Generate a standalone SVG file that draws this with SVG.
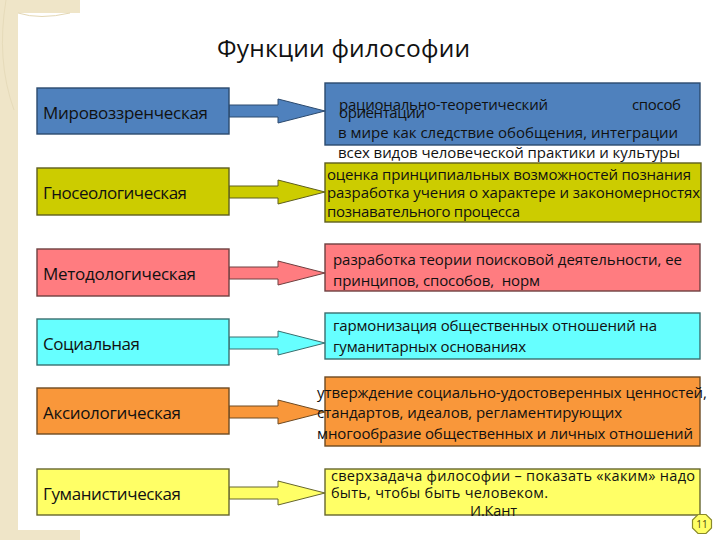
<svg xmlns="http://www.w3.org/2000/svg" width="720" height="540" viewBox="0 0 720 540">
<style>
  text { font-family: "Open Sans", "Liberation Sans", sans-serif; fill: #111111; }
  .title { font-size: 24.5px; }
  .lbl { font-size: 17px; }
  .txt { font-size: 15px; }
  .sm { font-size: 14.5px; }
  .box { stroke-width: 1.4; }
  .arr { stroke-width: 1; }
  .blue { fill: #4f81bd; stroke: #2c4a6e; }
  .olive { fill: #cccc00; stroke: #5e5e1e; }
  .pink { fill: #ff7c80; stroke: #6e4040; }
  .cyan { fill: #66ffff; stroke: #3a6e6e; }
  .orange { fill: #f9973a; stroke: #6e4a22; }
  .lyellow { fill: #ffff66; stroke: #66662e; }
</style>
<defs>
  <polygon id="arrow" points="0,-6 49,-6 49,-12 96,0 49,12 49,6 0,6"/>
</defs>

<!-- background -->
<rect x="0" y="0" width="720" height="540" fill="#ffffff"/>
<g id="background" fill="#efe5c8">
  <rect x="0" y="0" width="18" height="540"/>
  <rect x="0" y="0" width="80" height="13"/>
  <rect x="0" y="530" width="80" height="10"/>
  <path d="M18,13 Q40,20 70,13" fill="none" stroke="#e3d7b4" stroke-width="1"/>
  <path d="M6,0 Q-4,60 14,110" fill="none" stroke="#e6dbba" stroke-width="1"/>
</g>

<text id="title" class="title" x="217" y="57" textLength="253">Функции философии</text>

<g id="connectors">
  <use href="#arrow" class="arr blue" transform="translate(229,111)"/>
  <use href="#arrow" class="arr olive" transform="translate(229,192)"/>
  <use href="#arrow" class="arr pink" transform="translate(229,273)"/>
  <use href="#arrow" class="arr cyan" transform="translate(229,343)"/>
  <use href="#arrow" class="arr orange" transform="translate(229,412)"/>
  <use href="#arrow" class="arr lyellow" transform="translate(229,493)"/>
</g>

<g id="f-world">
  <rect class="box blue" x="37" y="88" width="192" height="46"/>
  <text class="lbl" x="43" y="118.5" textLength="165">Мировоззренческая</text>
</g>
<g id="d-world">
  <rect class="box blue" x="325" y="83" width="375" height="62"/>
  <text class="txt" x="339" y="110" textLength="209">рационально-теоретический</text>
  <text class="txt" x="632" y="110" textLength="49">способ</text>
  <text class="txt" x="339" y="118" textLength="86">ориентации</text>
  <text class="txt" x="338" y="138" textLength="340">в мире как следствие обобщения, интеграции</text>
  <text class="txt" x="338" y="158" textLength="342">всех видов человеческой практики и культуры</text>
</g>

<g id="f-gnoseo">
  <rect class="box olive" x="37" y="168" width="192" height="47"/>
  <text class="lbl" x="43" y="199" textLength="144">Гносеологическая</text>
</g>
<g id="d-gnoseo">
  <rect class="box olive" x="325" y="163" width="376" height="59"/>
  <text class="txt" x="327" y="180" textLength="364">оценка принципиальных возможностей познания</text>
  <text class="txt" x="327" y="198" textLength="373">разработка учения о характере и закономерностях</text>
  <text class="txt" x="327" y="217" textLength="193">познавательного процесса</text>
</g>

<g id="f-method">
  <rect class="box pink" x="37" y="249" width="192" height="47"/>
  <text class="lbl" x="43" y="280" textLength="153">Методологическая</text>
</g>
<g id="d-method">
  <rect class="box pink" x="325" y="244" width="375" height="47"/>
  <text class="txt" x="333" y="265" textLength="349">разработка теории поисковой деятельности, ее</text>
  <text class="txt" x="333" y="286" textLength="207" xml:space="preserve">принципов, способов,  норм</text>
</g>

<g id="f-social">
  <rect class="box cyan" x="37" y="319" width="192" height="46"/>
  <text class="lbl" x="43" y="349.5" textLength="97">Социальная</text>
</g>
<g id="d-social">
  <rect class="box cyan" x="325" y="313" width="375" height="46"/>
  <text class="txt" x="333" y="331" textLength="324">гармонизация общественных отношений на</text>
  <text class="txt" x="333" y="352" textLength="193">гуманитарных основаниях</text>
</g>

<g id="f-axio">
  <rect class="box orange" x="37" y="388" width="192" height="46"/>
  <text class="lbl" x="43" y="418.5" textLength="138">Аксиологическая</text>
</g>
<g id="d-axio">
  <rect class="box orange" x="325" y="377" width="375" height="69"/>
  <text class="txt" x="317" y="398" textLength="390">утверждение социально-удостоверенных ценностей,</text>
  <text class="txt" x="317" y="418" textLength="305">стандартов, идеалов, регламентирующих</text>
  <text class="txt" x="317" y="439" textLength="376">многообразие общественных и личных отношений</text>
</g>

<g id="f-human">
  <rect class="box lyellow" x="37" y="469" width="192" height="46"/>
  <text class="lbl" x="43" y="499.5" textLength="138">Гуманистическая</text>
</g>
<g id="d-human">
  <rect class="box lyellow" x="325" y="469" width="375" height="46"/>
  <text class="sm" x="331" y="481" textLength="364">сверхзадача философии – показать «каким» надо</text>
  <text class="sm" x="331" y="498" textLength="217">быть, чтобы быть человеком.</text>
  <text class="sm" x="470" y="516" textLength="47">И.Кант</text>
</g>

<g id="page-number">
  <polygon points="698,514.5 706,514.5 711.5,520 711.5,528 706,533.5 698,533.5 692.5,528 692.5,520" fill="#ffff66" stroke="#8a8a2a" stroke-width="1.2"/>
  <text x="702" y="527.5" font-size="10" text-anchor="middle" style="fill:#4a4a10">11</text>
</g>
</svg>
